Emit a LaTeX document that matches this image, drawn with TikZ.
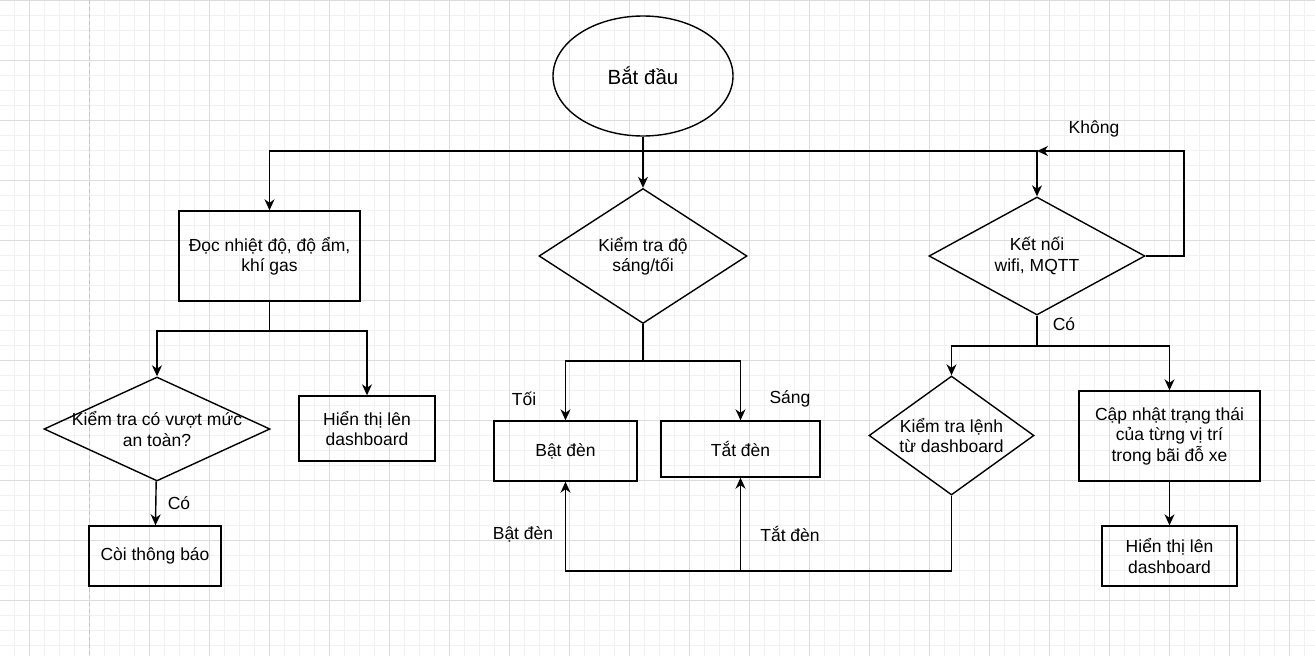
\documentclass[tikz,border=0pt]{standalone}
\usepackage{fontspec}
\setmainfont{Liberation Sans}
\usetikzlibrary{shapes.geometric}
\usetikzlibrary{arrows.meta}
\definecolor{gridminor}{HTML}{F1F1F1}
\definecolor{gridmajor}{HTML}{DCDCDC}
\definecolor{pagebreak}{HTML}{C4C4C4}
\tikzset{txt/.style={font=\fontsize{17.5}{20.5}\selectfont, align=center, inner sep=0pt}}
\tikzset{box/.style={draw, line width=1.4pt, rectangle, inner sep=0pt, txt}}
\tikzset{decision/.style n args={3}{draw, line width=1.4pt, diamond, inner sep=0pt,
    minimum width=#1, minimum height=#2, label={[txt]center:#3}}}
\tikzset{wire/.style={line width=1.4pt}}
\tikzset{arr/.style={wire, -{Stealth[length=11pt,width=10pt,inset=3.5pt]}}}

\begin{document}
\begin{tikzpicture}[x=1pt,y=-1pt]
                \useasboundingbox (0,0) rectangle (1315,656);
                
                % Grid
                \foreach \x in {0,15,...,1320} \draw[gridminor,line width=1pt] (\x-0.5,0) -- (\x-0.5,656);
                \foreach \y in {0,15,...,660} \draw[gridminor,line width=1pt] (0,\y) -- (1315,\y);
                \foreach \x in {30,90,...,1290} \draw[gridmajor,line width=1pt] (\x-0.5,0) -- (\x-0.5,656);
                \foreach \y in {0,60,...,660} \draw[gridmajor,line width=1pt] (0,\y) -- (1315,\y);
                \draw[pagebreak,line width=1pt,dash pattern=on 4pt off 3pt] (89,0) -- (89,656);
                
                % Start
                \node[draw, ellipse, line width=1.4pt, minimum width=180, minimum height=120, inner sep=0pt,
                    font=\fontsize{20.5}{24}\selectfont] (start) at (643,76) {Bắt đầu};
                
                % Sensors
                \node[box, minimum width=181, minimum height=90] (read) at (269.5,256) {Đọc nhiệt độ, độ ẩm,\\khí gas};
                \node[decision={226}{104}{Kiểm tra có vượt mức\\an toàn?}] (chkSafe) at (157,429) {};
                \node[box, minimum width=136, minimum height=65] (showA) at (367,428.5) {Hiển thị lên\\dashboard};
                \node[box, minimum width=132, minimum height=60] (alarm) at (155,556) {Còi thông báo};
                
                % Light
                \node[decision={208}{135}{Kiểm tra độ\\sáng/tối}] (chkLight) at (643,256) {};
                \node[box, minimum width=143, minimum height=60] (lampOn) at (565.5,451) {Bật đèn};
                \node[box, minimum width=159, minimum height=56] (lampOff) at (740.5,449) {Tắt đèn};
                
                % Network
                \node[decision={216}{118}{Kết nối\\wifi, MQTT}] (conn) at (1037,256) {};
                \node[decision={165}{119}{Kiểm tra lệnh\\từ dashboard}] (chkCmd) at (951.5,435.5) {};
                \node[box, minimum width=181, minimum height=90] (update) at (1169.5,436) {Cập nhật trạng thái\\của từng vị trí\\trong bãi đỗ xe};
                \node[box, minimum width=135, minimum height=60] (showB) at (1169.5,556) {Hiển thị lên\\dashboard};
                
                % Branch points
                \coordinate (split) at (643,151);
                \coordinate (loopTop) at (1037,151);
                \coordinate (loopR) at (1184,151);
                \coordinate (readSplit) at (269.5,331);
                \coordinate (lightSplit) at (643,361);
                \coordinate (connSplit) at (1037,346);
                \coordinate (cmdBot) at (951.5,571);
                
                % Connectors
                \draw[arr] (start) -- (chkLight);
                \draw[arr] (split) -| (read);
                \draw[arr] (split) -| (conn);
                \draw[arr] (conn.east) -| (loopR) -- (loopTop);
                \draw[wire] (read) -- (readSplit);
                \draw[arr] (readSplit) -| (chkSafe);
                \draw[arr] (readSplit) -| (showA);
                \draw[arr] (chkSafe) -- (alarm);
                \draw[wire] (chkLight) -- (lightSplit);
                \draw[arr] (lightSplit) -| (lampOn);
                \draw[arr] (lightSplit) -| (lampOff);
                \draw[wire] (conn) -- (connSplit);
                \draw[arr] (connSplit) -| (chkCmd);
                \draw[arr] (connSplit) -| (update);
                \draw[wire] (chkCmd) -- (cmdBot);
                \draw[arr] (cmdBot) -| (lampOff);
                \draw[arr] (cmdBot) -| (lampOn);
                \draw[arr] (update) -- (showB);
                
                % Labels
                \node[txt] (lblDark) at (524,399) {Tối};
                \node[txt] (lblBright) at (790,399) {Sáng};
                \node[txt] (lblOn) at (523,534) {Bật đèn};
                \node[txt] (lblOff) at (790,534) {Tắt đèn};
                \node[txt] (lblYesA) at (179,503) {Có};
                \node[txt] (lblYesB) at (1064,324) {Có};
                \node[txt] (lblNo) at (1094,129) {Không};
            \end{tikzpicture}
\end{document}
